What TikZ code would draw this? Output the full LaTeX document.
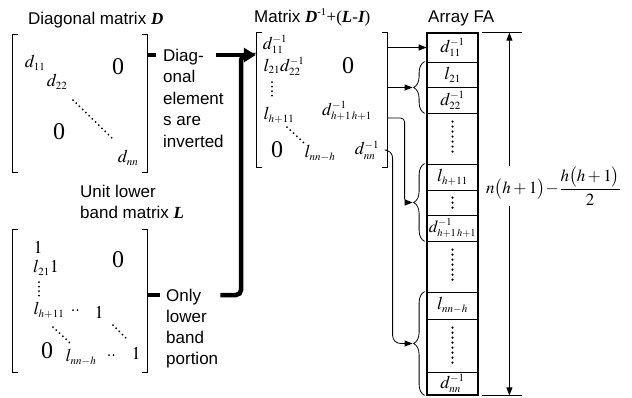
\documentclass[tikz,border=0pt]{standalone}
\usepackage{amsmath}
\usepackage{mathptmx}
\usepackage{fontspec}
\setmainfont{Liberation Serif}
\setsansfont{Liberation Sans}
\usetikzlibrary{arrows.meta,decorations.pathreplacing,calc}

\DeclareMathSizes{17}{17}{10.5}{7.5}
\DeclareMathSizes{18}{18}{11}{8}

\newcommand{\bivar}[1]{{\rmfamily\bfseries\itshape #1}}
\newcommand{\matbrackets}[1]{%
  \draw[thin] ([xshift=5]#1.north west) -- (#1.north west) -- (#1.south west) -- ([xshift=5]#1.south west);
  \draw[thin] ([xshift=-5]#1.north east) -- (#1.north east) -- (#1.south east) -- ([xshift=-5]#1.south east);}

\tikzset{
  lbl/.style={font=\sffamily\fontsize{17}{21.5}\selectfont, inner sep=0pt, text height=12pt, text depth=0pt},
  ent/.style={font=\fontsize{18}{20}\selectfont, inner sep=0pt},
  zero/.style={font=\rmfamily\fontsize{24}{26}\selectfont, inner sep=0pt},
  matbox/.style={inner sep=0pt},
  cell/.style={draw, line width=0.8pt, minimum width=51, inner sep=0pt, font=\fontsize{18}{20}\selectfont},
  dotln/.style={line width=2pt, line cap=round, dash pattern=on 0pt off 4.5pt},
  fadots/.style={line width=2.3pt, line cap=round, dash pattern=on 0pt off 5pt},
  thickln/.style={line width=4.5pt},
  thinarr/.style={line width=0.8pt, -{Triangle[length=8pt,width=6pt]}},
  fabrace/.style={decorate, decoration={brace, amplitude=11pt}, line width=0.8pt},
  thin/.style={line width=0.8pt}
}

\begin{document}
\begin{tikzpicture}[x=1pt, y=-1pt]
  \useasboundingbox (0,0) rectangle (632,397);

  % titles
  \node[lbl, anchor=base west] (tD) at (28,24) {Diagonal matrix \bivar{D}};
  \node[lbl, anchor=base west] (tM) at (254,22) {Matrix \bivar{D}{\rmfamily\textsuperscript{-1}+(\bivar{L}-\bivar{I})}};
  \node[lbl, anchor=base west] (tFA) at (428,22) {Array FA};
  \foreach \t [count=\i] in {Unit lower, band matrix \bivar{L}}
    \node[lbl, anchor=base west] (tL\i) at (80,{197+21.5*(\i-1)}) {\t};

  % matrix D
  \node[matbox, minimum width=134, minimum height=137] (Dmat) at (80,103.5) {};
  \matbrackets{Dmat}
  \foreach \pos/\name/\txt in {(35,63)/dA/{$d_{11}$}, (57,82)/dB/{$d_{22}$}, (128,158)/dN/{$d_{nn}$}}
    \node[ent] (\name) at \pos {\txt};
  \node[zero] (dZu) at (118,67) {0};
  \node[zero] (dZl) at (59,132) {0};
  \draw[dotln] (73,100) -- (112,138);

  % matrix L
  \node[matbox, minimum width=134, minimum height=142] (Lmat) at (80,301) {};
  \matbrackets{Lmat}
  \foreach \pos/\name/\txt in {(38,247)/lA/{$1$}, (46,268)/lB/{$l_{21}1$}, (49,310)/lC/{$l_{h+11}$},
      (99,312)/lD/{$1$}, (81,357)/lE/{$l_{nn-h}$}, (136,353)/lF/{$1$}}
    \node[ent] (\name) at \pos {\txt};
  \node[zero] (lZu) at (118,260) {0};
  \node[zero] (lZl) at (47,351) {0};
  \draw[dotln] (39,282) -- (39,299);
  \draw[dotln] (73,310) -- (80,310);
  \draw[dotln] (53,327) -- (70,343);
  \draw[dotln] (113,325) -- (128,340);
  \draw[dotln] (109,355) -- (116,355);

  % matrix D^-1 + (L-I)
  \node[matbox, minimum width=130, minimum height=134] (Mmat) at (322,100) {};
  \matbrackets{Mmat}
  \foreach \pos/\name/\txt in {(275,44)/mA/{$d_{11}^{-1}$}, (284,66)/mB/{$l_{21}d_{22}^{-1}$},
      (279,115)/mC/{$l_{h+11}$}, (347,111)/mhh/{$d_{h+1\,h+1}^{-1}$},
      (320,153)/mE/{$l_{nn-h}$}, (367,150)/mnn/{$d_{nn}^{-1}$}}
    \node[ent] (\name) at \pos {\txt};
  \node[zero] (mZu) at (348,66) {0};
  \node[zero] (mZl) at (277,150) {0};
  \draw[dotln] (272,82) -- (272,99);
  \draw[dotln] (287,127) -- (304,143);

  % side labels
  \foreach \t [count=\i] in {Diag-, onal, element, s are, inverted}
    \node[lbl, anchor=base west] (inv\i) at (163,{61+21.5*(\i-1)}) {\t};
  \foreach \t [count=\i] in {Only, lower, band, portion}
    \node[lbl, anchor=base west] (only\i) at (166,{301+21.3*(\i-1)}) {\t};

  % thick connectors
  \coordinate (join) at (241,0);
  \draw[thickln] (Dmat.east |- inv1) -- ([xshift=-7]inv1.west);
  \draw[thickln] (Lmat.east |- only1) -- ([xshift=-6]only1.west);
  \draw[thickln, rounded corners=5] ([xshift=19]only1.east) -| (join |- inv1) -- ([xshift=-14]Mmat.west |- inv1);
  \draw[thickln, -{Triangle[length=12pt,width=14pt]}, shorten >=1pt] ([xshift=12]inv1.east) -- (Mmat.west |- inv1);

  % array FA
  \foreach \ya/\yb/\txt [count=\i] in {33/62/{$d_{11}^{-1}$}, 62/87/{$l_{21}$}, 87/113/{$d_{22}^{-1}$},
      113/164/{}, 164/190/{$l_{h+11}$}, 190/215/{}, 215/241/{\fontsize{17}{19}\selectfont$d_{h+1\,h+1}^{-1}$}, 241/292/{},
      292/319/{$l_{nn-h}$}, 319/372/{}, 372/395/{$d_{nn}^{-1}$}}
    \node[cell, minimum height={\yb-\ya}] (c\i) at (452.5,{(\ya+\yb)/2}) {\txt};
  \draw[line width=2pt] (c1.north west) rectangle (c11.south east);
  \foreach \c in {c4,c8,c10}
    \draw[fadots] ([yshift=-9]\c.north) -- ([yshift=9]\c.south);
  \draw[fadots] ([yshift=-8]c6.north) -- ([yshift=6]c6.south);

  % braces
  \draw[fabrace] ([xshift=-2]c3.south west) -- ([xshift=-2]c2.north west);
  \draw[fabrace] ([xshift=-2]c7.south west) -- ([xshift=-2]c5.north west);
  \draw[fabrace] ([xshift=-2]c11.south west) -- ([xshift=-2]c9.north west);
  \coordinate (b1) at ($(c2.north west)!0.5!(c3.south west)+(-14,0)$);
  \coordinate (b2) at ($(c5.north west)!0.5!(c7.south west)+(-14,0)$);
  \coordinate (b3) at ($(c9.north west)!0.5!(c11.south west)+(-14,0)$);

  % thin connectors
  \draw[thinarr] (Mmat.east |- c1) -- (c1.west);
  \draw[thinarr] (Mmat.east |- b1) -- (b1);
  \draw[thinarr, rounded corners=4] ([yshift=-7]Mmat.east |- mhh) -| ($(b2)+(-8,0)$) -- (b2);
  \draw[thinarr, rounded corners=8] (Mmat.east |- mnn) -| ($(b3)+(-20,0)$) -- (b3);

  % size of FA
  \draw[thin] ([xshift=4]c1.north east) -- ++(40,0) coordinate[pos=0.675] (dt);
  \draw[thin] ([xshift=4]c11.south east) -- ++(40,0) coordinate[pos=0.675] (db);
  \node[inner sep=0pt, anchor=west, font=\fontsize{17}{20}\selectfont] (dim) at (486,186) {$n\bigl(h+1\bigr)\!-\!\dfrac{h\bigl(h+1\bigr)}{2}$};
  \draw[thinarr] (dim.north -| dt) -- (dt);
  \draw[thinarr] (dim.south -| db) -- (db);
\end{tikzpicture}
\end{document}
